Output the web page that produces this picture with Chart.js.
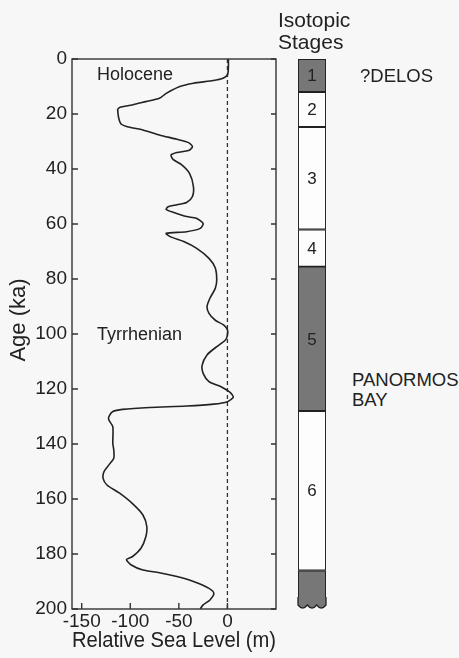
<!DOCTYPE html>
<html>
<head>
<meta charset="utf-8">
<script src="https://cdn.jsdelivr.net/npm/chart.js@4.4.1/dist/chart.umd.min.js"></script>
<style>
  html, body { margin: 0; padding: 0; background: #f7f7f7; }
  body { width: 459px; height: 658px; position: relative; overflow: hidden;
         font-family: "Liberation Sans", Arial, sans-serif; color: #222; }
  canvas { position: absolute; top: 0; }
  .t { position: absolute; white-space: nowrap; line-height: 1; }
</style>
</head>
<body>
<canvas id="main" width="290" height="658" style="left:0"></canvas>
<canvas id="stages" width="50" height="658" style="left:290px"></canvas>

<div class="t" style="left:-32px; top:309px; width:100px; text-align:center; font-size:22px; transform:rotate(-90deg); transform-origin:50px 11px;">Age (ka)</div>
<div class="t" style="left:97px; top:65px; font-size:18px;">Holocene</div>
<div class="t" style="left:97px; top:325px; font-size:18px;">Tyrrhenian</div>
<div class="t" style="left:278px; top:9px; font-size:21px; line-height:22px;">Isotopic<br>Stages</div>
<div class="t" style="left:360px; top:67px; font-size:18.5px;">?DELOS</div>
<div class="t" style="left:352px; top:370px; font-size:18.5px; line-height:19.5px;">PANORMOS<br>BAY</div>

<script>
// ---- data ----
const ages = [0, 2.8, 5.8, 7.3, 8, 8.8, 10, 12.5, 14.3, 15.5, 16.7, 17.6, 18.5, 23.4, 24.6, 25.8, 27.6, 29.2, 30.4, 31.9,
  33.3, 34, 34.9, 36.5, 38.5, 41.6, 46.4, 50, 52.2, 53, 53.7, 54.7, 55.7, 57.3, 57.9, 59.8, 61.6, 62.8, 63.4, 64.6,
  66.4, 68.8, 72.5, 76, 80.4, 83.4, 87, 90, 92.5, 95, 96.7, 98.5, 100.4, 102.2, 104.6, 107.6, 111.3, 114.3, 117.3, 119.1,
  121.3, 123, 124.6, 125.5, 126.2, 126.7, 127.4, 128.2, 130, 131.3, 133.7, 139.8, 142.2, 145.2, 147.6, 150, 152.5, 154.9, 157.9, 161.6,
  165.8, 170, 173.7, 177.9, 181, 182, 184, 185.8, 186.8, 188.2, 190, 192.5, 194.3, 196.7, 198.5, 200];
const seaLevel = [1, 1, 0, -7, -18, -35, -49, -63, -70, -84, -98, -111, -113, -110, -103, -87, -70, -52, -40, -36,
  -40, -52, -58, -56, -47, -39, -35, -36, -42, -52, -61, -63, -56, -42, -32, -25, -28, -42, -63, -59,
  -45, -32, -19, -12.5, -11, -12.5, -18, -21, -19, -12.5, -4, 0, 0, -2, -11, -21, -26, -25, -19, -7,
  3, 6, 0, -14, -42, -80, -108, -118, -122, -122, -118, -118, -117, -117, -122, -127, -128, -124, -111, -98,
  -87, -83, -84, -89, -98, -104, -99, -87, -70, -52, -35, -19, -14, -18, -25, -28];
const xTickValues = [-150, -100, -50, 0];
const yTickValues = [0, 20, 40, 60, 80, 100, 120, 140, 160, 180, 200];
const stageNumbers = [1, 2, 3, 4, 5, 6, 7];
const stageBounds = [0, 12, 24.7, 62, 75.5, 128, 186, 200];
const shadedStages = [1, 5, 7];
const xTitle = 'Relative Sea Level (m)';

const FONT = '"Liberation Sans", Arial, sans-serif';
const INK = '#222';
const DARK = '#777';
const BG = '#f7f7f7';

const framePlugin = {
  id: 'frame',
  afterDraw(chart) {
    const {ctx, chartArea: a, scales} = chart;
    ctx.save();
    ctx.strokeStyle = '#333';
    ctx.lineWidth = 1.4;
    ctx.strokeRect(a.left, a.top, a.right - a.left, a.bottom - a.top);
    ctx.beginPath();
    scales.y.ticks.forEach(t => {
      const p = scales.y.getPixelForValue(t.value);
      ctx.moveTo(a.left, p); ctx.lineTo(a.left + 6, p);
      ctx.moveTo(a.right, p); ctx.lineTo(a.right - 5, p);
    });
    scales.x.ticks.forEach(t => {
      const p = scales.x.getPixelForValue(t.value);
      ctx.moveTo(p, a.bottom); ctx.lineTo(p, a.bottom - 6);
    });
    ctx.stroke();
    ctx.restore();
  }
};

new Chart(document.getElementById('main'), {
  type: 'scatter',
  data: {
    datasets: [
      {
        data: ages.map((a, i) => ({x: seaLevel[i], y: a})),
        showLine: true,
        borderColor: INK,
        borderWidth: 1.6,
        pointRadius: 0,
        tension: 0.25,
        fill: false
      },
      {
        data: [{x: 0, y: 0}, {x: 0, y: 200}],
        showLine: true,
        borderColor: '#333',
        borderWidth: 1.3,
        borderDash: [4, 3],
        pointRadius: 0
      }
    ]
  },
  options: {
    responsive: false,
    animation: false,
    devicePixelRatio: 1,
    layout: {padding: {top: 59, right: 14, left: 0, bottom: 0}},
    plugins: {legend: {display: false}, tooltip: {enabled: false}},
    scales: {
      x: {
        type: 'linear',
        min: -160, max: 50,
        grid: {display: false, drawTicks: false, tickLength: 0},
        border: {display: false},
        afterBuildTicks: s => { s.ticks = xTickValues.map(v => ({value: v})); },
        afterFit: s => { s.height = 49; },
        ticks: {color: INK, font: {family: FONT, size: 19}, padding: 1, maxRotation: 0},
        title: {display: true, text: xTitle, color: INK, font: {family: FONT, size: 22}, padding: {top: 0, bottom: 4}}
      },
      y: {
        type: 'linear',
        min: 0, max: 200,
        reverse: true,
        grid: {display: false, drawTicks: false, tickLength: 0},
        border: {display: false},
        afterBuildTicks: s => { s.ticks = yTickValues.map(v => ({value: v})); },
        afterFit: s => { s.width = 72; },
        ticks: {color: INK, font: {family: FONT, size: 19}, padding: 5}
      }
    }
  },
  plugins: [framePlugin]
});

const stageLabelPlugin = {
  id: 'stageLabels',
  afterDatasetsDraw(chart) {
    const {ctx} = chart;
    ctx.save();
    // wavy broken-off bottom of the last stage
    const lastMeta = chart.getDatasetMeta(chart.data.datasets.length - 1);
    const el = lastMeta.data[0];
    const half = el.width / 2;
    const l = el.x - half, r = el.x + half, b = Math.max(el.y, el.base);
    ctx.fillStyle = BG;
    ctx.fillRect(l - 2, b - 5, r - l + 4, 8);
    ctx.beginPath();
    ctx.moveTo(l, b - 12);
    ctx.lineTo(l, b - 4);
    const n = 3, w = (r - l) / n;
    for (let k = 0; k < n; k++) {
      ctx.quadraticCurveTo(l + w * k + w / 2, b + 2, l + w * (k + 1), b - 4);
    }
    ctx.lineTo(r, b - 12);
    ctx.closePath();
    ctx.fillStyle = DARK;
    ctx.fill();
    ctx.beginPath();
    ctx.moveTo(l, b - 12);
    ctx.lineTo(l, b - 4);
    for (let k = 0; k < n; k++) {
      ctx.quadraticCurveTo(l + w * k + w / 2, b + 2, l + w * (k + 1), b - 4);
    }
    ctx.lineTo(r, b - 12);
    ctx.strokeStyle = INK;
    ctx.lineWidth = 1.3;
    ctx.stroke();

    ctx.fillStyle = INK;
    ctx.font = '17px ' + FONT;
    ctx.textAlign = 'center';
    ctx.textBaseline = 'middle';
    chart.data.datasets.forEach((ds, i) => {
      const num = stageNumbers[i];
      if (num === 7) return;
      const e = chart.getDatasetMeta(i).data[0];
      ctx.fillText(String(num), e.x, (e.y + e.base) / 2 + 1);
    });
    ctx.restore();
  }
};

new Chart(document.getElementById('stages'), {
  type: 'bar',
  data: {
    labels: ['stages'],
    datasets: stageNumbers.map((n, i) => ({
      data: [[stageBounds[i], stageBounds[i + 1]]],
      backgroundColor: shadedStages.includes(n) ? DARK : '#fdfdfd',
      borderColor: INK,
      borderWidth: 1.3,
      borderSkipped: false,
      grouped: false,
      barPercentage: 1,
      categoryPercentage: 1
    }))
  },
  options: {
    responsive: false,
    animation: false,
    devicePixelRatio: 1,
    layout: {padding: {top: 59, bottom: 49, left: 8, right: 14}},
    plugins: {legend: {display: false}, tooltip: {enabled: false}},
    scales: {
      x: {display: false},
      y: {display: false, min: 0, max: 200, reverse: true}
    }
  },
  plugins: [stageLabelPlugin]
});
</script>
</body>
</html>
